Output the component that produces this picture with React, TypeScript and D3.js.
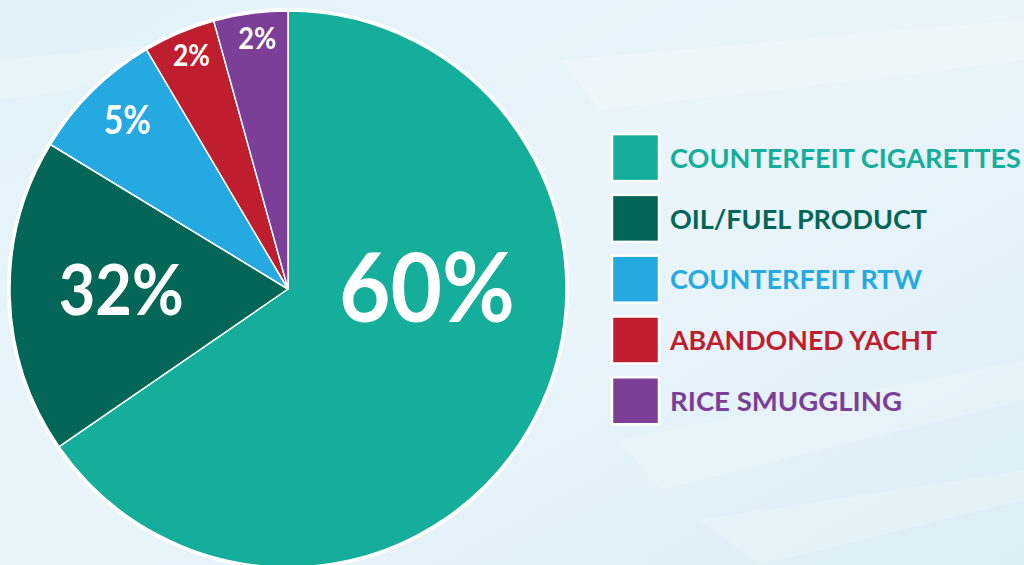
import React, { useEffect, useRef } from "react";
import * as d3 from "d3";

// slice sizes, printed labels as shown
const categories = [
  "COUNTERFEIT CIGARETTES",
  "OIL/FUEL PRODUCT",
  "COUNTERFEIT RTW",
  "ABANDONED YACHT",
  "RICE SMUGGLING",
];
const sliceValues = [65.4, 18.3, 7.8, 4.2, 4.3];
const percentLabels = ["60%", "32%", "5%", "2%", "2%"];
const colors = ["#15ae9b", "#046657", "#24a9e0", "#be1e2d", "#7b3f98"];

// label placement inside each slice: fraction along the slice angle, fraction of radius, font size, width
const labelAt = [0.38, 0.52, 0.54, 0.54, 0.55];
const labelR = [0.5, 0.6, 0.84, 0.91, 0.91];
const labelSize = [96, 71, 40, 30, 30];
const labelWidth = [176, 125, 47, 37, 38];
const legendWidth = [351, 257, 252, 267, 232];

export default function App() {
  const svgRef = useRef<SVGSVGElement>(null);

  useEffect(() => {
    const width = 1024;
    const height = 565;
    const svg = d3.select(svgRef.current);
    svg.selectAll("*").remove();
    svg.attr("width", width).attr("height", height).style("font-family", "Lato, sans-serif");

    const defs = svg.append("defs");
    const grad = defs
      .append("linearGradient")
      .attr("id", "bg")
      .attr("x1", "0")
      .attr("y1", "0")
      .attr("x2", "1")
      .attr("y2", "1");
    grad.append("stop").attr("offset", "0%").attr("stop-color", "#e2f1f9");
    grad.append("stop").attr("offset", "50%").attr("stop-color", "#eaf5fb");
    grad.append("stop").attr("offset", "100%").attr("stop-color", "#dcedf6");
    svg.append("rect").attr("width", width).attr("height", height).attr("fill", "url(#bg)");

    // faint light streaks in the backdrop
    const streaks = [
      [[560, 60], [1024, 20], [1024, 60], [600, 110]],
      [[620, 440], [1024, 360], [1024, 400], [660, 490]],
      [[0, 60], [200, 40], [200, 70], [0, 100]],
      [[700, 520], [1024, 470], [1024, 500], [760, 565]],
    ];
    svg
      .append("g")
      .selectAll("path")
      .data(streaks)
      .join("path")
      .attr("d", (d) => d3.line()(d as [number, number][]) + "Z")
      .attr("fill", "#ffffff")
      .attr("opacity", 0.18);

    const cx = 288;
    const cy = 289;
    const radius = 278;

    const g = svg.append("g").attr("transform", `translate(${cx},${cy})`);
    g.append("circle").attr("r", radius + 3).attr("fill", "#ffffff");

    const data = categories.map((c, i) => ({ c, v: sliceValues[i], i }));
    const pie = d3
      .pie<any>()
      .sort(null)
      .value((d) => d.v);
    const arc = d3.arc<any>().innerRadius(0).outerRadius(radius);
    const arcs = pie(data);

    g.selectAll("path.slice")
      .data(arcs)
      .join("path")
      .attr("class", "slice")
      .attr("d", arc)
      .attr("fill", (d) => colors[d.data.i])
      .attr("stroke", "#ffffff")
      .attr("stroke-width", 1.5)
      .attr("stroke-linejoin", "round");

    g.selectAll("text.pct")
      .data(arcs)
      .join("text")
      .attr("class", "pct")
      .attr("transform", (d) => {
        const i = d.data.i;
        const a = d.startAngle + (d.endAngle - d.startAngle) * labelAt[i];
        const r = radius * labelR[i];
        return `translate(${r * Math.sin(a)},${-r * Math.cos(a)})`;
      })
      .attr("text-anchor", "middle")
      .attr("dy", "0.36em")
      .attr("font-weight", 700)
      .attr("font-size", (d) => labelSize[d.data.i])
      .attr("textLength", (d) => labelWidth[d.data.i])
      .attr("lengthAdjust", "spacingAndGlyphs")
      .attr("fill", "#ffffff")
      .text((d) => percentLabels[d.data.i]);

    // legend
    const y = d3
      .scaleBand()
      .domain(categories)
      .range([128, 432])
      .paddingInner(0.2)
      .paddingOuter(0.1);
    const legend = svg
      .append("g")
      .selectAll("g")
      .data(categories)
      .join("g")
      .attr("transform", (d) => `translate(612,${y(d)})`);

    legend
      .append("rect")
      .attr("width", 47)
      .attr("height", 47)
      .attr("fill", (d, i) => colors[i])
      .attr("stroke", "#ffffff")
      .attr("stroke-width", 2.5);

    legend
      .append("text")
      .attr("x", 58)
      .attr("y", 24)
      .attr("dy", "0.36em")
      .attr("font-weight", 700)
      .attr("font-size", 27)
      .attr("textLength", (d, i) => legendWidth[i])
      .attr("lengthAdjust", "spacingAndGlyphs")
      .attr("fill", (d, i) => colors[i])
      .text((d) => d);
  }, []);

  return (
    <div style={{ position: "absolute", left: 0, top: 0, width: 1024, height: 565, overflow: "hidden" }}>
      <svg ref={svgRef} style={{ display: "block" }} />
    </div>
  );
}
